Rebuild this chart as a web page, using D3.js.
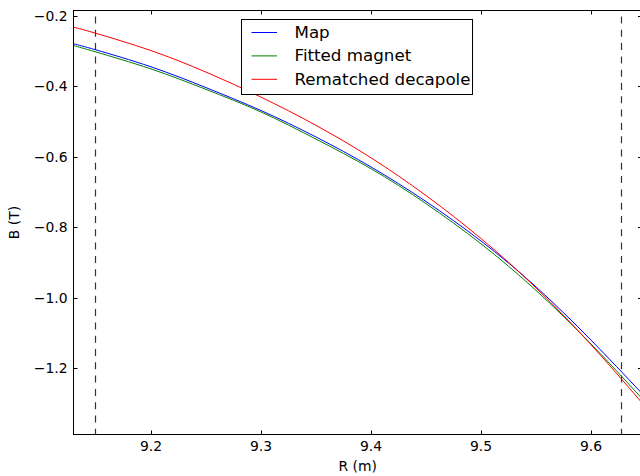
<!DOCTYPE html>
<html><head><meta charset="utf-8">
<script src="https://cdn.jsdelivr.net/npm/d3@7"></script>
<style>body{margin:0;background:#fff}svg{display:block;font-family:"DejaVu Sans",sans-serif}</style>
</head><body><svg id="c" width="640" height="476"></svg>
<script>
const R = [9.13, 9.15, 9.2, 9.25, 9.3, 9.35, 9.4, 9.45, 9.5, 9.55, 9.6, 9.645];
const mapB = [-0.280, -0.297, -0.345, -0.404, -0.469, -0.544, -0.629, -0.727, -0.839, -0.969, -1.120, -1.267];
const fittedB = [-0.285, -0.303, -0.351, -0.409, -0.473, -0.550, -0.634, -0.733, -0.847, -0.979, -1.131, -1.281];
const rematchedB = [-0.233, -0.250, -0.299, -0.360, -0.431, -0.511, -0.603, -0.710, -0.832, -0.972, -1.133, -1.293];
const seriesNames = ["Map", "Fitted magnet", "Rematched decapole"];
const seriesColors = ["#0000ff", "#008000", "#ff0000"];
const xTicks = [9.2, 9.3, 9.4, 9.5, 9.6];
const yTicks = [-0.2, -0.4, -0.6, -0.8, -1.0, -1.2];
const dashedR = [9.149, 9.627];
const xLabel = "R (m)", yLabel = "B (T)";

const svg = d3.select("#c");
const L = 73.5, Rt = 642, T = 10.5, B = 434.5;
const x = d3.scaleLinear().domain([9.2, 9.6]).range([151, 591]);
const y = d3.scaleLinear().domain([-0.2, -1.2]).range([15.7, 368.3]);
const fmt = v => (v < 0 ? "\u2212" : "") + Math.abs(v).toFixed(1);

svg.append("defs").append("clipPath").attr("id", "clip")
  .append("rect").attr("x", L).attr("y", T).attr("width", Rt - L).attr("height", B - T);

const g = svg.append("g").attr("clip-path", "url(#clip)");
dashedR.forEach(r => {
  g.append("line").attr("x1", Math.round(x(r)) + 0.5).attr("x2", Math.round(x(r)) + 0.5)
    .attr("y1", T).attr("y2", B).attr("stroke", "#333").attr("stroke-width", 1.2)
    .attr("stroke-dasharray", "7,6.3").attr("stroke-dashoffset", -6);
});
const line = d3.line().x((d, i) => x(R[i])).y(d => y(d)).curve(d3.curveNatural);
[mapB, fittedB, rematchedB].forEach((s, k) => {
  g.append("path").attr("d", line(s)).attr("fill", "none")
    .attr("stroke", seriesColors[k]).attr("stroke-width", 1);
});

// spines
svg.append("rect").attr("x", L).attr("y", T).attr("width", Rt - L).attr("height", B - T)
  .attr("fill", "none").attr("stroke", "#000").attr("stroke-width", 1);

// ticks
const tk = svg.append("g").attr("stroke", "#000").attr("stroke-width", 1);
xTicks.forEach(v => {
  const px = Math.round(x(v)) + 0.5;
  tk.append("line").attr("x1", px).attr("x2", px).attr("y1", B).attr("y2", B - 4);
  tk.append("line").attr("x1", px).attr("x2", px).attr("y1", T).attr("y2", T + 4);
});
yTicks.forEach(v => {
  const py = Math.round(y(v)) + 0.5;
  tk.append("line").attr("x1", L).attr("x2", L + 4).attr("y1", py).attr("y2", py);
  tk.append("line").attr("x1", Rt).attr("x2", Rt - 4).attr("y1", py).attr("y2", py);
});
const lab = svg.append("g").attr("font-size", "13.9px").attr("fill", "#000");
xTicks.forEach(v => {
  lab.append("text").attr("x", x(v)).attr("y", 450.5).attr("text-anchor", "middle").text(v.toFixed(1));
});
yTicks.forEach(v => {
  lab.append("text").attr("x", 67.5).attr("y", y(v) + 5).attr("text-anchor", "end").text(fmt(v));
});
lab.append("text").attr("x", (L + Rt) / 2).attr("y", 471).attr("text-anchor", "middle").text(xLabel);
lab.append("text").attr("transform", `translate(19,${(T + B) / 2}) rotate(-90)`)
  .attr("text-anchor", "middle").text(yLabel);

// legend
const lg = svg.append("g");
lg.append("rect").attr("x", 241.5).attr("y", 19.5).attr("width", 231).attr("height", 75)
  .attr("fill", "#fff").attr("stroke", "#000").attr("stroke-width", 1);
seriesNames.forEach((n, i) => {
  const yy = 32.5 + i * 23.4;
  lg.append("line").attr("x1", 251.5).attr("x2", 277).attr("y1", yy).attr("y2", yy)
    .attr("stroke", seriesColors[i]).attr("stroke-width", 1);
  lg.append("text").attr("x", 294.5).attr("y", yy + 5.5).attr("font-size", "16.7px").text(n);
});
</script></body></html>
